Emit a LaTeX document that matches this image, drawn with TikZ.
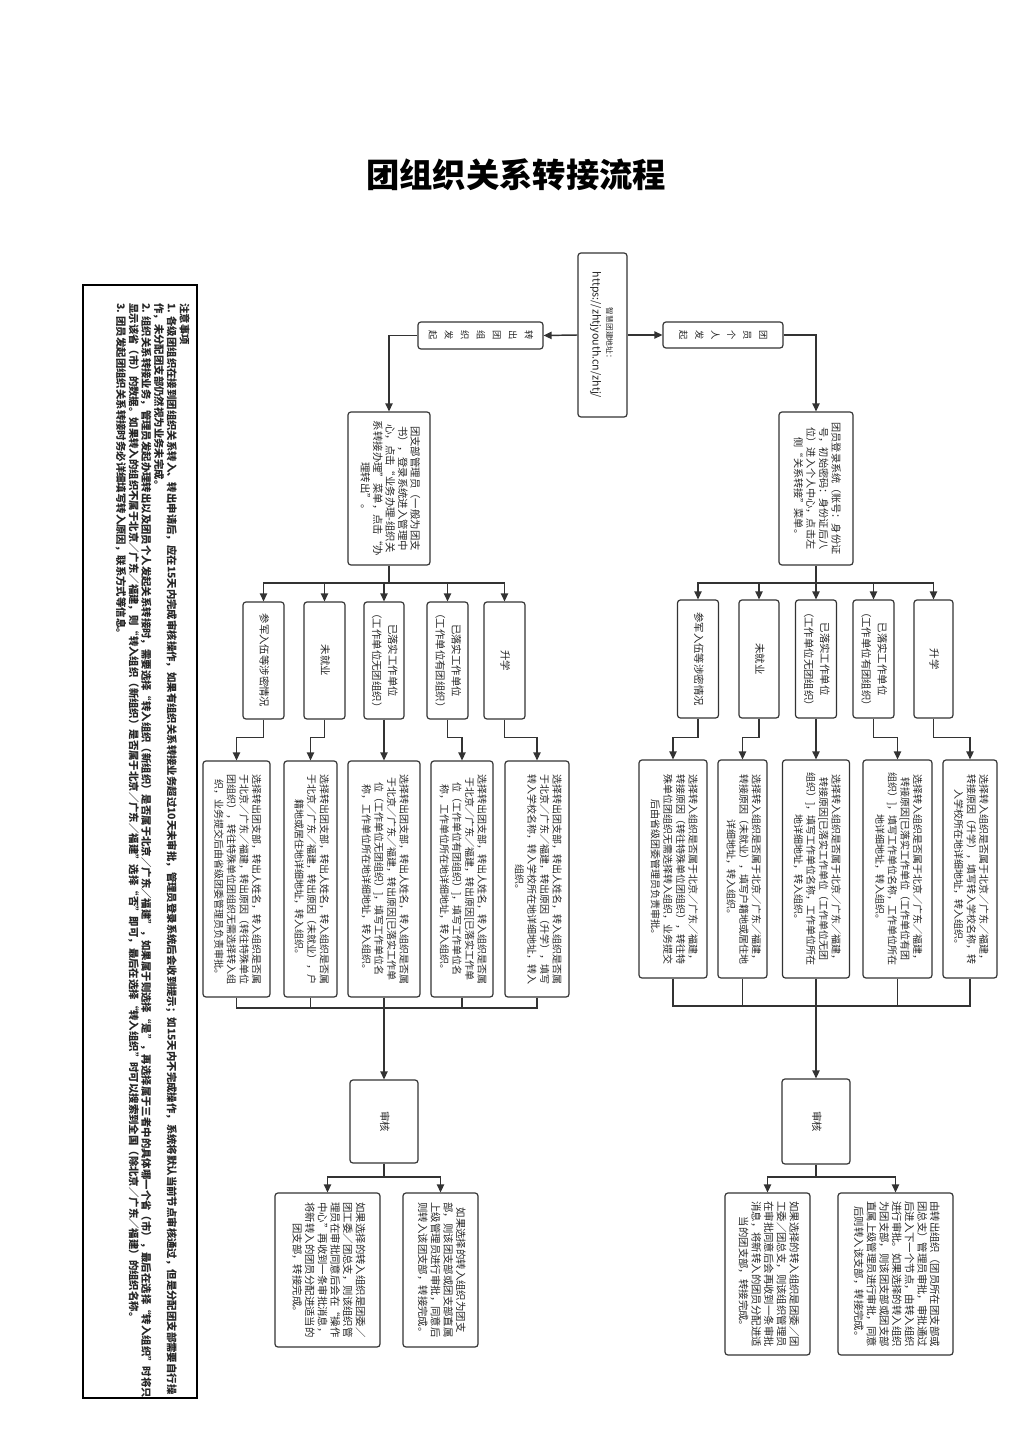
\documentclass[tikz,border=0pt]{standalone}
\usepackage{fontspec}
\usepackage{graphicx}
\newfontfamily\cjk{Noto Sans CJK SC}
\usetikzlibrary{arrows.meta}
\definecolor{linec}{HTML}{333333}
\definecolor{txtc}{HTML}{262626}
\newcommand\vtext[1]{\rotatebox[origin=c]{-90}{\begin{tabular}{@{}c@{}}#1\end{tabular}}}
\newcommand\vtextl[1]{\rotatebox[origin=c]{-90}{\begin{tabular}{@{}l@{}}#1\end{tabular}}}
\tikzset{
  box/.style={draw=linec, line width=0.9pt, rounded corners=2.2pt, inner sep=0pt, fill=white, text=txtc},
  sz/.style 2 args={minimum width={#1*0.75pt}, minimum height={#2*0.75pt}},
  conn/.style={draw=linec, line width=1.1pt},
  arr/.style={draw=linec, line width=1.1pt, -{Triangle[length=6pt,width=5.5pt]}},
  ftop/.style={font=\cjk\fontsize{7.6pt}{9.4pt}\selectfont},
  fcat/.style={font=\cjk\fontsize{7.8pt}{12pt}\selectfont},
  fdet/.style={font=\cjk\fontsize{7.5pt}{9.4pt}\selectfont},
  fres/.style={font=\cjk\fontsize{7.8pt}{9.5pt}\selectfont},
  fstack/.style={font=\cjk\fontsize{7pt}{12pt}\selectfont},
}
\begin{document}
\begin{tikzpicture}[x=0.75pt,y=-0.75pt]
\useasboundingbox (0,0) rectangle (1024,1448);
\fill[white] (0,0) rectangle (1024,1448);

% title
\node[font=\cjk\bfseries\fontsize{25pt}{30pt}\selectfont, text=black, inner sep=0pt] (title) at (516,175) {团组织关系转接流程};

% notes
\node[draw=black, line width=1.5pt, sz={114}{1113}, inner sep=0pt] (notes) at (140,841.5) {};
\node[anchor=north east, inner sep=0pt, text=txtc, font=\cjk\bfseries\fontsize{7.8pt}{9.2pt}\selectfont] (notestext) at (190,303) {\vtextl{注意事项\\
1. 各级团组织在接到团组织关系转入、转出申请后，应在15天内完成审核操作，如果有组织关系转接业务超过10天未审批，管理员登录系统后会收到提示；如15天内不完成操作，系统将默认当前节点审核通过，但是分配团支部需要自行操\\
作，未分配团支部仍然视为业务未完成。\\
2. 组织关系转接业务，管理员发起办理转出以及团员个人发起关系转接时，需要选择“转入组织（新组织）是否属于北京／广东／福建”，如果属于则选择“是”，再选择属于三者中的具体哪一个省（市），最后在选择“转入组织”时将只\\
显示该省（市）的数据。如果转入的组织不属于北京／广东／福建，则“转入组织（新组织）是否属于北京／广东／福建”选择“否”即可，最后在选择“转入组织”时可以搜索到全国（除北京／广东／福建）的组织名称。\\
3. 团员发起团组织关系转接时务必详细填写转入原因，联系方式等信息。}};

% start
\node[box, sz={49}{164}, font=\cjk\fontsize{8pt}{10.5pt}\selectfont] (start) at (602.5,335) {\vtext{{\fontsize{5.8pt}{8pt}\selectfont 智慧团建地址：}\\https://zhtjyouth.cn/zhtj/}};

\node[box, sz={120}{26}, fstack] (r0) at (723,335) {\vtext{团\\员\\个\\人\\发\\起}};
\node[box, sz={125}{27}, fstack] (l0) at (480.5,335.5) {\vtext{转\\出\\团\\组\\织\\发\\起}};

\node[box, sz={74}{153}, ftop] (r1) at (816,488.5) {\vtext{团员登录系统（账号：身份证\\号，初始密码：身份证后八\\位）进入个人中心，点击左\\侧“关系转接”菜单。}};
\node[box, sz={82}{153}, font=\cjk\fontsize{7.8pt}{9.2pt}\selectfont] (l1) at (389,488.5) {\vtext{团支部管理员（一般为团支\\书），登录系统进入管理中\\心，点击“业务办理-组织关\\系转接办理”菜单，点击“办\\理转出”。}};

% right categories
\node[box, sz={41}{118}, fcat] (rc1) at (698,659) {\vtext{参军入伍等涉密情况}};
\node[box, sz={40}{118}, fcat] (rc2) at (759,659) {\vtext{未就业}};
\node[box, sz={41}{118}, fcat] (rc3) at (816,659) {\vtext{已落实工作单位\\（工作单位无团组织）}};
\node[box, sz={41}{118}, fcat] (rc4) at (873.5,659) {\vtext{已落实工作单位\\（工作单位有团组织）}};
\node[box, sz={39}{118}, fcat] (rc5) at (933.5,659) {\vtext{升学}};

% left categories
\node[box, sz={41}{117}, fcat] (lc1) at (263.5,660.5) {\vtext{参军入伍等涉密情况}};
\node[box, sz={41}{117}, fcat] (lc2) at (324.5,660.5) {\vtext{未就业}};
\node[box, sz={40}{117}, fcat] (lc3) at (384,660.5) {\vtext{已落实工作单位\\（工作单位无团组织）}};
\node[box, sz={41}{117}, fcat] (lc4) at (447.5,660.5) {\vtext{已落实工作单位\\（工作单位有团组织）}};
\node[box, sz={41}{117}, fcat] (lc5) at (504.5,660.5) {\vtext{升学}};

% right details
\node[box, sz={68}{218}, fdet] (rd1) at (673,869) {\vtext{选择转入组织是否属于北京／广东／福建，\\转接原因（转往特殊单位团组织），转往特\\殊单位团组织无需选择转入组织，业务提交\\后由省级团委管理员负责审批。}};
\node[box, sz={49}{218}, fdet] (rd2) at (742.5,869) {\vtext{选择转入组织是否属于北京／广东／福建，\\转接原因（未就业），填写户籍地或居住地\\详细地址，转入组织。}};
\node[box, sz={67}{218}, fdet] (rd3) at (816,869) {\vtext{选择转入组织是否属于北京／广东／福建，\\转接原因[已落实工作单位（工作单位无团\\组织）]，填写工作单位名称，工作单位所在\\地详细地址，转入组织。}};
\node[box, sz={69}{218}, fdet] (rd4) at (897.5,869) {\vtext{选择转入组织是否属于北京／广东／福建，\\转接原因[已落实工作单位（工作单位有团\\组织）]，填写工作单位名称，工作单位所在\\地详细地址，转入组织。}};
\node[box, sz={54}{218}, fdet] (rd5) at (970,869) {\vtext{选择转入组织是否属于北京／广东／福建，\\转接原因（升学），填写转入学校名称，转\\入学校所在地详细地址，转入组织。}};

% left details
\node[box, sz={67}{236}, fdet] (ld1) at (236.5,879) {\vtext{选择转出团支部，转出人姓名，转入组织是否属\\于北京／广东／福建，转出原因（转往特殊单位\\团组织），转往特殊单位团组织无需选择转入组\\织，业务提交后由省级团委管理员负责审批。}};
\node[box, sz={53}{236}, fdet] (ld2) at (310.5,879) {\vtext{选择转出团支部，转出人姓名，转入组织是否属\\于北京／广东／福建，转出原因（未就业），户\\籍地或居住地详细地址，转入组织。}};
\node[box, sz={72}{236}, fdet] (ld3) at (384,879) {\vtext{选择转出团支部，转出人姓名，转入组织是否属\\于北京／广东／福建，转出原因[已落实工作单\\位（工作单位无团组织）]，填写工作单位名\\称，工作单位所在地详细地址，转入组织。}};
\node[box, sz={62}{236}, fdet] (ld4) at (462,879) {\vtext{选择转出团支部，转出人姓名，转入组织是否属\\于北京／广东／福建，转出原因[已落实工作单\\位（工作单位有团组织）]，填写工作单位名\\称，工作单位所在地详细地址，转入组织。}};
\node[box, sz={64}{236}, fdet] (ld5) at (537,879) {\vtext{选择转出团支部，转出人姓名，转入组织是否属\\于北京／广东／福建，转出原因（升学），填写\\转入学校名称，转入学校所在地详细地址，转入\\组织。}};

% review
\node[box, sz={68}{85}, fcat] (rsh) at (816,1121.5) {\vtext{审核}};
\node[box, sz={68}{83}, fcat] (lsh) at (384,1121.5) {\vtext{审核}};

% results
\node[box, sz={85}{162}, fres] (rrA) at (767.5,1274) {\vtext{如果选择的转入组织是团委／团\\工委／团总支，则该组织管理员\\在审批同意后会再收到一条审批\\消息，将新转入的团员分配进适\\当的团支部，转接完成。}};
\node[box, sz={115}{162}, fres] (rrB) at (895.5,1274) {\vtext{由转出组织（团员所在团支部或\\团总支）管理员审批，审批通过\\后进入下一个节点，由转入组织\\进行审批。如果选择的转入组织\\为团支部，则该团支部或团支部\\直属上级管理员进行审批，同意\\后则转入该支部，转接完成。}};
\node[box, sz={105}{154}, fres] (lrA) at (327.5,1270) {\vtext{如果选择的转入组织是团委／\\团工委／团总支，则该组织管\\理员在审批同意后会在“操作\\中心”再收到一条审批消息，\\将新转入的团员分配进适当的\\团支部，转接完成。}};
\node[box, sz={75}{154}, fres] (lrB) at (440.5,1270) {\vtext{如果选择的转入组织为团支\\部，则该团支部或团支部直属\\上级管理员进行审批，同意后\\则转入该团支部，转接完成。}};

% connectors
\draw[arr] (start.east) -- (r0.west);
\draw[arr] (start.west) -- (l0.east);
\draw[arr] (r0.east) -| (r1.north);
\draw[arr] (l0.west) -| (l1.north);

\coordinate (rb1) at (816,583);
\coordinate (lb1) at (389,583);
\draw[conn] (r1.south) -- (rb1);
\draw[conn] (l1.south) -- (lb1);
\foreach \i in {1,...,5} {
  \draw[arr] (rb1) -| (rc\i.north);
  \draw[arr] (lb1) -| (lc\i.north);
  \draw[arr] (rc\i.south) -- ++(0,19) -| (rd\i.north);
  \draw[arr] (lc\i.south) -- ++(0,18) -| (ld\i.north);
}

\coordinate (rb2) at (816,1006);
\coordinate (lb2) at (384,1008);
\foreach \i in {1,...,5} {
  \draw[conn] (rd\i.south) |- (rb2);
  \draw[conn] (ld\i.south) |- (lb2);
}
\draw[arr] (rb2) -- (rsh.north);
\draw[arr] (lb2) -- (lsh.north);

\coordinate (rb3) at (816,1177);
\coordinate (lb3) at (384,1177);
\draw[conn] (rsh.south) -- (rb3);
\draw[conn] (lsh.south) -- (lb3);
\draw[arr] (rb3) -| (rrA.north);
\draw[arr] (rb3) -| (rrB.north);
\draw[arr] (lb3) -| (lrA.north);
\draw[arr] (lb3) -| (lrB.north);
\end{tikzpicture}
\end{document}
